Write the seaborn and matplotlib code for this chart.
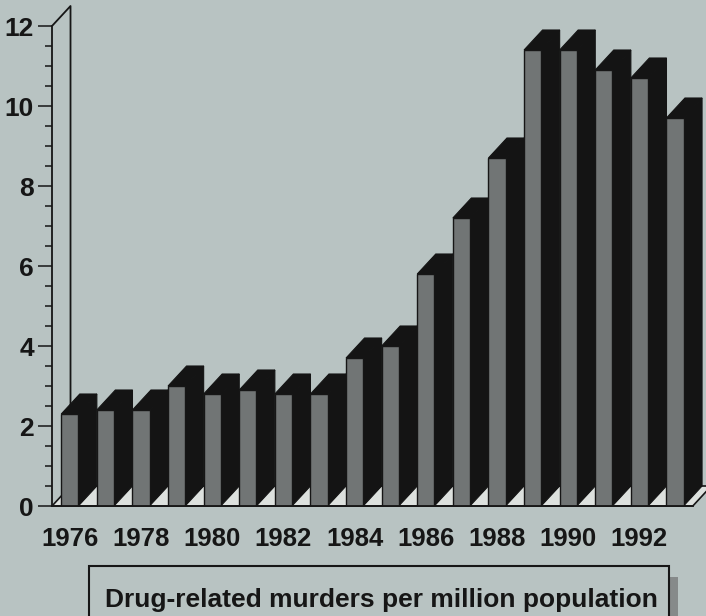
import matplotlib
matplotlib.use("Agg")
import matplotlib.pyplot as plt
import seaborn as sns
import pandas as pd
from matplotlib.patches import Polygon, Rectangle
from matplotlib.ticker import FixedLocator

# ---- data ----
years = [1976, 1977, 1978, 1979, 1980, 1981, 1982, 1983, 1984,
         1985, 1986, 1987, 1988, 1989, 1990, 1991, 1992, 1993]
rates = [2.3, 2.4, 2.4, 3.0, 2.8, 2.9, 2.8, 2.8, 3.7,
         4.0, 5.8, 7.2, 8.7, 11.4, 11.4, 10.9, 10.7, 9.7]
ytick_values = [0, 2, 4, 6, 8, 10, 12]
label_years = [1976, 1978, 1980, 1982, 1984, 1986, 1988, 1990, 1992]
legend_label = "Drug-related murders per million population"

# ---- style ----
sns.set_theme(style="white")
plt.rcParams['font.family'] = ['Liberation Sans', 'DejaVu Sans']
plt.rcParams['font.weight'] = 'bold'

BG = '#b8c3c2'
FRONT = '#717575'
SIDE = '#141414'
FLOOR = '#dde1de'
INK = '#161616'
DX, DY = 0.52, 0.5   # 3-D depth offset (x in slots, y in data units)

fig = plt.figure(figsize=(7.06, 6.16), dpi=100, facecolor=BG)
ax = fig.add_axes([52 / 706, 110 / 616, 654 / 706, 506 / 616])
ax.set_facecolor('none')

df = pd.DataFrame({'year': [str(y) for y in years], 'rate': rates})
sns.barplot(data=df, x='year', y='rate', color=FRONT, saturation=1,
            width=0.48, edgecolor=INK, linewidth=1.0, ax=ax, zorder=4)

n = len(years)
x_left, x_right = -0.5, n - 0.5

# floor
ax.add_patch(Polygon([(x_left, 0), (x_right, 0), (x_right + DX, DY), (x_left + DX, DY)],
                     closed=True, facecolor=FLOOR, edgecolor=INK, linewidth=1.2,
                     zorder=1, clip_on=False))
# left wall outline
ax.plot([x_left, x_left + DX, x_left + DX], [12, 12 + DY, DY], color=INK, lw=1.3,
        zorder=2, clip_on=False, solid_capstyle='butt')

# 3-D top and side faces built from the bars seaborn drew
for p in list(ax.patches):
    if not isinstance(p, matplotlib.patches.Rectangle):
        continue
    x0 = p.get_x()
    w = p.get_width()
    h = p.get_height()
    x1 = x0 + w
    top = Polygon([(x0, h), (x1, h), (x1 + DX, h + DY), (x0 + DX, h + DY)], closed=True,
                  facecolor=SIDE, edgecolor=SIDE, linewidth=0.8, zorder=3, clip_on=False)
    side = Polygon([(x1, 0), (x1, h), (x1 + DX, h + DY), (x1 + DX, DY)], closed=True,
                   facecolor=SIDE, edgecolor=SIDE, linewidth=0.8, zorder=3, clip_on=False)
    ax.add_patch(top)
    ax.add_patch(side)

ax.set_xlim(x_left, x_left + 654 / 35.6)
ax.set_ylim(0, 506 / 40)
ax.set_xlabel('')
ax.set_ylabel('')

# x ticks: labels every other year, tick marks at slot boundaries
ax.set_xticks([years.index(y) for y in label_years])
ax.set_xticklabels([str(y) for y in label_years])
ax.set_xticks([i - 0.5 for i in range(n + 1)], minor=True)
ax.tick_params(axis='x', which='major', length=0, pad=15, labelsize=18.5, labelcolor=INK)
ax.tick_params(axis='x', which='minor', length=9.5, width=1.1, color=INK, direction='out')

ax.set_yticks(ytick_values)
ax.set_yticklabels([str(v) for v in ytick_values])
ax.yaxis.set_minor_locator(FixedLocator([k * 0.5 for k in range(0, 25)]))
ax.tick_params(axis='y', which='major', length=10, width=1.1, color=INK, pad=3,
               labelsize=19, labelcolor=INK, direction='out', left=True)
ax.tick_params(axis='y', which='minor', length=5, width=1.1, color=INK, direction='out', left=True)

for s in ['top', 'right']:
    ax.spines[s].set_visible(False)
ax.spines['left'].set_bounds(0, 12)
ax.spines['bottom'].set_bounds(x_left, x_right)
for s in ['left', 'bottom']:
    ax.spines[s].set_color(INK)
    ax.spines[s].set_linewidth(1.3)
    ax.spines[s].set_zorder(5)

# legend box at bottom
fig.add_artist(Rectangle((669 / 706, -0.05), 9 / 706, 0.05 + 39 / 616,
                         transform=fig.transFigure, facecolor='#868a8a', edgecolor='none'))
fig.add_artist(Rectangle((88.5 / 706, -0.05), 580 / 706, 0.05 + 50.5 / 616,
                         transform=fig.transFigure, facecolor=BG, edgecolor=INK, linewidth=1.5))
fig.text(381 / 706, 9.5 / 616, legend_label, ha='center', va='baseline', fontsize=19,
         fontweight='bold', color=INK)

fig.savefig('out.png', dpi=100, facecolor=BG)
